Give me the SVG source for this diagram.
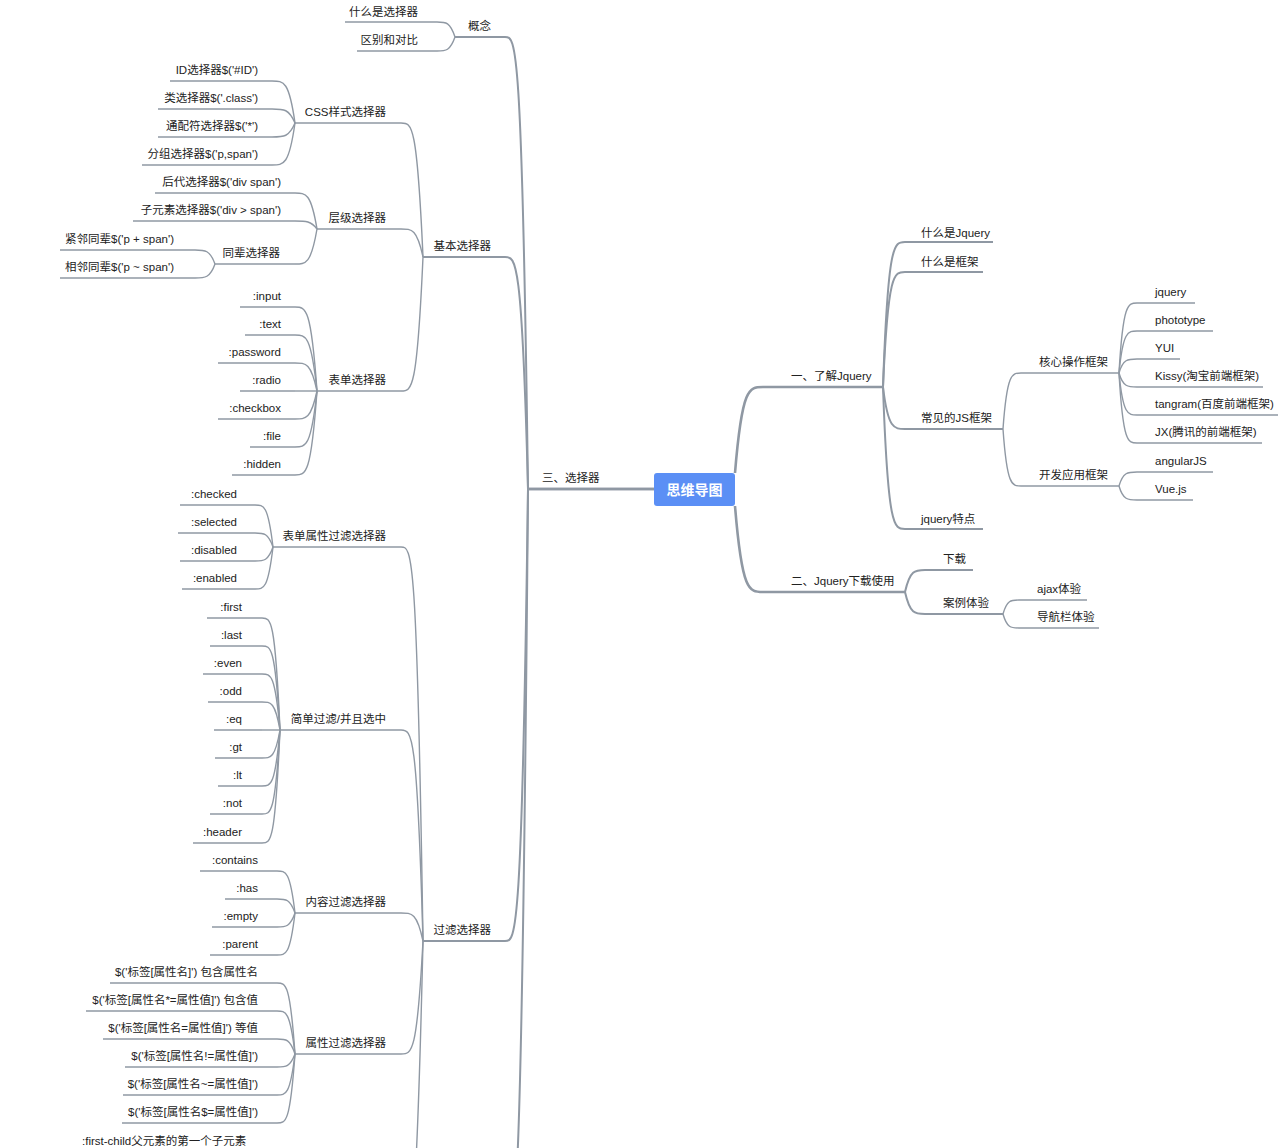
<svg xmlns="http://www.w3.org/2000/svg" width="1280" height="1148" viewBox="0 0 1280 1148">
<style>
text{font-family:"Liberation Sans","Noto Sans CJK SC",sans-serif;font-size:11.5px;fill:#222}
.e{text-anchor:end}
.u{stroke:#8f98a3;stroke-width:1.3;fill:none}
.c{stroke:#8f98a3;stroke-width:1.4;fill:none}
.m{stroke:#8f98a3;stroke-width:2.6;fill:none}
.b{stroke:#8f98a3;stroke-width:2;fill:none}
</style>
<rect width="1280" height="1148" fill="#fff"/>
<g id="connectors">
<path class="m" d="M735 473 C742 387 749 387 763 387"/>
<path class="m" d="M735 506 C742 592 749 592 763 592"/>
<path class="m" d="M654 489 L528 489"/>
<path class="b" d="M883 387 C888 242 894 242 905 242"/>
<path class="b" d="M883 387 C888 272 894 272 905 272"/>
<path class="b" d="M883 387 C888 429 894 429 905 429"/>
<path class="b" d="M883 387 C888 529 894 529 905 529"/>
<path class="c" d="M1003 429 C1007 373 1012 373 1021 373"/>
<path class="c" d="M1003 429 C1007 486 1012 486 1021 486"/>
<path class="c" d="M1119 373 C1123 303 1128 303 1137 303"/>
<path class="c" d="M1119 373 C1123 331 1128 331 1137 331"/>
<path class="c" d="M1119 373 C1123 359 1128 359 1137 359"/>
<path class="c" d="M1119 373 C1123 387 1128 387 1137 387"/>
<path class="c" d="M1119 373 C1123 415 1128 415 1137 415"/>
<path class="c" d="M1119 373 C1123 443 1128 443 1137 443"/>
<path class="c" d="M1119 486 C1123 472 1128 472 1137 472"/>
<path class="c" d="M1119 486 C1123 500 1128 500 1137 500"/>
<path class="b" d="M905 592 C910 570 915 570 925 570"/>
<path class="b" d="M905 592 C910 614 915 614 925 614"/>
<path class="c" d="M1003 614 C1007 600 1011 600 1019 600"/>
<path class="c" d="M1003 614 C1007 628 1011 628 1019 628"/>
<path class="b" d="M528 489 C522 37 516 37 505 37"/>
<path class="b" d="M528 489 C522 257 516 257 505 257"/>
<path class="b" d="M528 489 C522 941 516 941 505 941"/>
<path class="b" d="M528 489 C522 1200 516 1240 505 1260"/>
<path class="c" d="M455 37 C450 22 446 22 437 22"/>
<path class="c" d="M455 37 C450 51 446 51 437 51"/>
<path class="c" d="M423 257 C417 123 412 123 401 123"/>
<path class="c" d="M423 257 C417 229 412 229 401 229"/>
<path class="c" d="M423 257 C417 391 412 391 401 391"/>
<path class="c" d="M295 123 C289 81 284 81 272 81"/>
<path class="c" d="M295 123 C289 109 284 109 272 109"/>
<path class="c" d="M295 123 C289 137 284 137 272 137"/>
<path class="c" d="M295 123 C289 165 284 165 272 165"/>
<path class="c" d="M317 229 C311 193 306 193 295 193"/>
<path class="c" d="M317 229 C311 221 306 221 295 221"/>
<path class="c" d="M317 229 C311 264 306 264 295 264"/>
<path class="c" d="M215 264 C210 250 205 250 195 250"/>
<path class="c" d="M215 264 C210 278 205 278 195 278"/>
<path class="c" d="M317 391 C311 307 306 307 295 307"/>
<path class="c" d="M317 391 C311 335 306 335 295 335"/>
<path class="c" d="M317 391 C311 363 306 363 295 363"/>
<path class="c" d="M317 391 C311 391 306 391 295 391"/>
<path class="c" d="M317 391 C311 419 306 419 295 419"/>
<path class="c" d="M317 391 C311 447 306 447 295 447"/>
<path class="c" d="M317 391 C311 475 306 475 295 475"/>
<path class="c" d="M423 941 C417 547 412 547 401 547"/>
<path class="c" d="M423 941 C417 730 412 730 401 730"/>
<path class="c" d="M423 941 C417 913 412 913 401 913"/>
<path class="c" d="M423 941 C417 1054 412 1054 401 1054"/>
<path class="c" d="M423 941 C417 1200 412 1240 405 1260"/>
<path class="c" d="M273 547 C268 505 264 505 255 505"/>
<path class="c" d="M273 547 C268 533 264 533 255 533"/>
<path class="c" d="M273 547 C268 561 264 561 255 561"/>
<path class="c" d="M273 547 C268 589 264 589 255 589"/>
<path class="c" d="M280 730 C275 618 271 618 262 618"/>
<path class="c" d="M280 730 C275 646 271 646 262 646"/>
<path class="c" d="M280 730 C275 674 271 674 262 674"/>
<path class="c" d="M280 730 C275 702 271 702 262 702"/>
<path class="c" d="M280 730 C275 730 271 730 262 730"/>
<path class="c" d="M280 730 C275 758 271 758 262 758"/>
<path class="c" d="M280 730 C275 786 271 786 262 786"/>
<path class="c" d="M280 730 C275 814 271 814 262 814"/>
<path class="c" d="M280 730 C275 843 271 843 262 843"/>
<path class="c" d="M295 913 C290 871 286 871 277 871"/>
<path class="c" d="M295 913 C290 899 286 899 277 899"/>
<path class="c" d="M295 913 C290 927 286 927 277 927"/>
<path class="c" d="M295 913 C290 955 286 955 277 955"/>
<path class="c" d="M295 1054 C290 983 286 983 277 983"/>
<path class="c" d="M295 1054 C290 1011 286 1011 277 1011"/>
<path class="c" d="M295 1054 C290 1039 286 1039 277 1039"/>
<path class="c" d="M295 1054 C290 1067 286 1067 277 1067"/>
<path class="c" d="M295 1054 C290 1095 286 1095 277 1095"/>
<path class="c" d="M295 1054 C290 1123 286 1123 277 1123"/>
</g>
<g id="root"><rect x="654" y="473" width="81" height="33" rx="3" fill="#5b8ff5"/><text x="694.5" y="495" text-anchor="middle" style="fill:#fff;font-size:14px;font-weight:bold">思维导图</text></g>
<g id="n1"><line class="m" x1="763" y1="387" x2="883" y2="387"/><text x="791" y="380">一、了解Jquery</text></g>
<g id="n2"><line class="m" x1="763" y1="592" x2="905" y2="592"/><text x="791" y="585">二、Jquery下载使用</text></g>
<g id="n3"><line class="m" x1="528" y1="489" x2="654" y2="489"/><text x="542" y="482">三、选择器</text></g>
<g id="n1a"><line class="b" x1="905" y1="242" x2="993" y2="242"/><text x="921" y="237">什么是Jquery</text></g>
<g id="n1b"><line class="b" x1="905" y1="272" x2="983" y2="272"/><text x="921" y="266">什么是框架</text></g>
<g id="n1c"><line class="b" x1="905" y1="429" x2="1003" y2="429"/><text x="921" y="422">常见的JS框架</text></g>
<g id="n1d"><line class="b" x1="905" y1="529" x2="983" y2="529"/><text x="921" y="523">jquery特点</text></g>
<g id="n1c1"><line class="u" x1="1021" y1="373" x2="1119" y2="373"/><text x="1039" y="366">核心操作框架</text></g>
<g id="n1c2"><line class="u" x1="1021" y1="486" x2="1119" y2="486"/><text x="1039" y="479">开发应用框架</text></g>
<g id="k1"><line class="u" x1="1137" y1="303" x2="1195" y2="303"/><text x="1155" y="296">jquery</text></g>
<g id="k2"><line class="u" x1="1137" y1="331" x2="1213" y2="331"/><text x="1155" y="324">phototype</text></g>
<g id="k3"><line class="u" x1="1137" y1="359" x2="1180" y2="359"/><text x="1155" y="352">YUI</text></g>
<g id="k4"><line class="u" x1="1137" y1="387" x2="1263" y2="387"/><text x="1155" y="380">Kissy(淘宝前端框架)</text></g>
<g id="k5"><line class="u" x1="1137" y1="415" x2="1278" y2="415"/><text x="1155" y="408">tangram(百度前端框架)</text></g>
<g id="k6"><line class="u" x1="1137" y1="443" x2="1262" y2="443"/><text x="1155" y="436">JX(腾讯的前端框架)</text></g>
<g id="d1"><line class="u" x1="1137" y1="472" x2="1213" y2="472"/><text x="1155" y="465">angularJS</text></g>
<g id="d2"><line class="u" x1="1137" y1="500" x2="1193" y2="500"/><text x="1155" y="493">Vue.js</text></g>
<g id="n2a"><line class="b" x1="925" y1="570" x2="973" y2="570"/><text x="943" y="563">下载</text></g>
<g id="n2b"><line class="b" x1="925" y1="614" x2="1003" y2="614"/><text x="943" y="607">案例体验</text></g>
<g id="n2b1"><line class="u" x1="1019" y1="600" x2="1087" y2="600"/><text x="1037" y="593">ajax体验</text></g>
<g id="n2b2"><line class="u" x1="1019" y1="628" x2="1099" y2="628"/><text x="1037" y="621">导航栏体验</text></g>
<g id="g1"><line class="b" x1="455" y1="37" x2="505" y2="37"/><text class="e" x="491" y="30">概念</text></g>
<g id="g2"><line class="b" x1="423" y1="257" x2="505" y2="257"/><text class="e" x="491" y="250">基本选择器</text></g>
<g id="g3"><line class="b" x1="423" y1="941" x2="505" y2="941"/><text class="e" x="491" y="934">过滤选择器</text></g>
<g id="g1a"><line class="u" x1="345" y1="22" x2="437" y2="22"/><text class="e" x="418" y="16">什么是选择器</text></g>
<g id="g1b"><line class="u" x1="357" y1="51" x2="437" y2="51"/><text class="e" x="418" y="44">区别和对比</text></g>
<g id="css"><line class="u" x1="295" y1="123" x2="401" y2="123"/><text class="e" x="386" y="116">CSS样式选择器</text></g>
<g id="cj"><line class="u" x1="317" y1="229" x2="401" y2="229"/><text class="e" x="386" y="222">层级选择器</text></g>
<g id="bd"><line class="u" x1="317" y1="391" x2="401" y2="391"/><text class="e" x="386" y="384">表单选择器</text></g>
<g id="css1"><line class="u" x1="170" y1="81" x2="272" y2="81"/><text class="e" x="258" y="74">ID选择器$('#ID')</text></g>
<g id="css2"><line class="u" x1="158" y1="109" x2="272" y2="109"/><text class="e" x="258" y="102">类选择器$('.class')</text></g>
<g id="css3"><line class="u" x1="158" y1="137" x2="272" y2="137"/><text class="e" x="258" y="130">通配符选择器$('*')</text></g>
<g id="css4"><line class="u" x1="142" y1="165" x2="272" y2="165"/><text class="e" x="258" y="158">分组选择器$('p,span')</text></g>
<g id="cj1"><line class="u" x1="155" y1="193" x2="295" y2="193"/><text class="e" x="281" y="186">后代选择器$('div span')</text></g>
<g id="cj2"><line class="u" x1="133" y1="221" x2="295" y2="221"/><text class="e" x="281" y="214">子元素选择器$('div &gt; span')</text></g>
<g id="cj3"><line class="u" x1="215" y1="264" x2="295" y2="264"/><text class="e" x="280" y="257">同辈选择器</text></g>
<g id="tb1"><line class="u" x1="60" y1="250" x2="195" y2="250"/><text class="e" x="174" y="243">紧邻同辈$('p + span')</text></g>
<g id="tb2"><line class="u" x1="60" y1="278" x2="195" y2="278"/><text class="e" x="174" y="271">相邻同辈$('p ~ span')</text></g>
<g id="bd1"><line class="u" x1="240" y1="307" x2="295" y2="307"/><text class="e" x="281" y="300">:input</text></g>
<g id="bd2"><line class="u" x1="245" y1="335" x2="295" y2="335"/><text class="e" x="281" y="328">:text</text></g>
<g id="bd3"><line class="u" x1="218" y1="363" x2="295" y2="363"/><text class="e" x="281" y="356">:password</text></g>
<g id="bd4"><line class="u" x1="240" y1="391" x2="295" y2="391"/><text class="e" x="281" y="384">:radio</text></g>
<g id="bd5"><line class="u" x1="218" y1="419" x2="295" y2="419"/><text class="e" x="281" y="412">:checkbox</text></g>
<g id="bd6"><line class="u" x1="250" y1="447" x2="295" y2="447"/><text class="e" x="281" y="440">:file</text></g>
<g id="bd7"><line class="u" x1="232" y1="475" x2="295" y2="475"/><text class="e" x="281" y="468">:hidden</text></g>
<g id="f1"><line class="u" x1="273" y1="547" x2="401" y2="547"/><text class="e" x="386" y="540">表单属性过滤选择器</text></g>
<g id="f2"><line class="u" x1="280" y1="730" x2="401" y2="730"/><text class="e" x="386" y="723">简单过滤/并且选中</text></g>
<g id="f3"><line class="u" x1="295" y1="913" x2="401" y2="913"/><text class="e" x="386" y="906">内容过滤选择器</text></g>
<g id="f4"><line class="u" x1="295" y1="1054" x2="401" y2="1054"/><text class="e" x="386" y="1047">属性过滤选择器</text></g>
<g id="f1a"><line class="u" x1="180" y1="505" x2="255" y2="505"/><text class="e" x="237" y="498">:checked</text></g>
<g id="f1b"><line class="u" x1="178" y1="533" x2="255" y2="533"/><text class="e" x="237" y="526">:selected</text></g>
<g id="f1c"><line class="u" x1="180" y1="561" x2="255" y2="561"/><text class="e" x="237" y="554">:disabled</text></g>
<g id="f1d"><line class="u" x1="182" y1="589" x2="255" y2="589"/><text class="e" x="237" y="582">:enabled</text></g>
<g id="f2a"><line class="u" x1="207" y1="618" x2="262" y2="618"/><text class="e" x="242" y="611">:first</text></g>
<g id="f2b"><line class="u" x1="210" y1="646" x2="262" y2="646"/><text class="e" x="242" y="639">:last</text></g>
<g id="f2c"><line class="u" x1="203" y1="674" x2="262" y2="674"/><text class="e" x="242" y="667">:even</text></g>
<g id="f2d"><line class="u" x1="208" y1="702" x2="262" y2="702"/><text class="e" x="242" y="695">:odd</text></g>
<g id="f2e"><line class="u" x1="214" y1="730" x2="262" y2="730"/><text class="e" x="242" y="723">:eq</text></g>
<g id="f2f"><line class="u" x1="215" y1="758" x2="262" y2="758"/><text class="e" x="242" y="751">:gt</text></g>
<g id="f2g"><line class="u" x1="218" y1="786" x2="262" y2="786"/><text class="e" x="242" y="779">:lt</text></g>
<g id="f2h"><line class="u" x1="210" y1="814" x2="262" y2="814"/><text class="e" x="242" y="807">:not</text></g>
<g id="f2i"><line class="u" x1="193" y1="843" x2="262" y2="843"/><text class="e" x="242" y="836">:header</text></g>
<g id="f3a"><line class="u" x1="200" y1="871" x2="277" y2="871"/><text class="e" x="258" y="864">:contains</text></g>
<g id="f3b"><line class="u" x1="225" y1="899" x2="277" y2="899"/><text class="e" x="258" y="892">:has</text></g>
<g id="f3c"><line class="u" x1="212" y1="927" x2="277" y2="927"/><text class="e" x="258" y="920">:empty</text></g>
<g id="f3d"><line class="u" x1="210" y1="955" x2="277" y2="955"/><text class="e" x="258" y="948">:parent</text></g>
<g id="f4a"><line class="u" x1="110" y1="983" x2="277" y2="983"/><text class="e" x="258" y="976">$('标签[属性名]') 包含属性名</text></g>
<g id="f4b"><line class="u" x1="86" y1="1011" x2="277" y2="1011"/><text class="e" x="258" y="1004">$('标签[属性名*=属性值]') 包含值</text></g>
<g id="f4c"><line class="u" x1="103" y1="1039" x2="277" y2="1039"/><text class="e" x="258" y="1032">$('标签[属性名=属性值]') 等值</text></g>
<g id="f4d"><line class="u" x1="125" y1="1067" x2="277" y2="1067"/><text class="e" x="258" y="1060">$('标签[属性名!=属性值]')</text></g>
<g id="f4e"><line class="u" x1="123" y1="1095" x2="277" y2="1095"/><text class="e" x="258" y="1088">$('标签[属性名~=属性值]')</text></g>
<g id="f4f"><line class="u" x1="122" y1="1123" x2="277" y2="1123"/><text class="e" x="258" y="1116">$('标签[属性名$=属性值]')</text></g>
<g id="f5a"><text x="82" y="1145">:first-child父元素的第一个子元素</text></g>
</svg>
